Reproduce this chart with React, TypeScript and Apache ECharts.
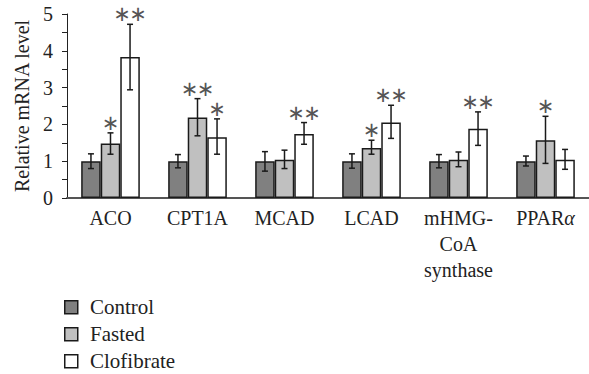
import React, { useEffect, useRef } from "react";
import * as echarts from "echarts";

const categories = ["ACO", "CPT1A", "MCAD", "LCAD", "mHMG-\nCoA\nsynthase", "PPARα"];
const seriesNames = ["Control", "Fasted", "Clofibrate"];
const controlValues = [1.0, 1.0, 1.0, 1.0, 1.0, 1.0];
const fastedValues = [1.48, 2.19, 1.04, 1.36, 1.04, 1.57];
const clofibrateValues = [3.83, 1.65, 1.74, 2.05, 1.88, 1.04];
const controlErrLow = [0.8, 0.82, 0.73, 0.81, 0.82, 0.87];
const controlErrHigh = [1.2, 1.18, 1.26, 1.2, 1.18, 1.14];
const fastedErrLow = [1.19, 1.69, 0.8, 1.19, 0.85, 0.94];
const fastedErrHigh = [1.77, 2.7, 1.3, 1.57, 1.25, 2.22];
const clofibrateErrLow = [2.94, 1.19, 1.46, 1.62, 1.43, 0.78];
const clofibrateErrHigh = [4.72, 2.15, 2.05, 2.52, 2.34, 1.32];
const controlMarks = ["", "", "", "", "", ""];
const fastedMarks = ["*", "**", "", "*", "", "*"];
const clofibrateMarks = ["**", "*", "**", "**", "**", ""];

const colors = ["#808080", "#c0c0c0", "#ffffff"];
const CAT_GAP = 0.326;
const FONT = "'Liberation Serif', 'DejaVu Serif', serif";
const FS = 20;

export default function App() {
  const ref = useRef<HTMLDivElement>(null);
  useEffect(() => {
    document.body.style.margin = "0";
    const chart = echarts.init(ref.current!, null, { renderer: "svg" });
    const values = [controlValues, fastedValues, clofibrateValues];
    const lows = [controlErrLow, fastedErrLow, clofibrateErrLow];
    const highs = [controlErrHigh, fastedErrHigh, clofibrateErrHigh];
    const marks = [controlMarks, fastedMarks, clofibrateMarks];
    const errData: number[][] = [];
    for (let c = 0; c < categories.length; c++) {
      for (let s = 0; s < 3; s++) {
        errData.push([c, s, lows[s][c], highs[s][c]]);
      }
    }
    const barSeries = seriesNames.map((name, i) => ({
      name,
      type: "bar",
      data: values[i],
      barGap: "0%",
      barCategoryGap: (CAT_GAP * 100).toFixed(1) + "%",
      itemStyle: { color: colors[i], borderColor: "#1a1a1a", borderWidth: 1.5 },
    }));
    const legendGraphics: any[] = [];
    seriesNames.forEach((n, i) => {
      legendGraphics.push({
        type: "rect",
        left: 64,
        top: 300 + 27 * i,
        shape: { width: 13, height: 13 },
        style: { fill: colors[i], stroke: "#1a1a1a", lineWidth: 1.5 },
      });
      legendGraphics.push({
        type: "text",
        x: 90,
        y: 307 + 27 * i,
        style: {
          text: n,
          fontFamily: FONT,
          fontSize: 21,
          fill: "#222",
          verticalAlign: "middle",
          align: "left",
        },
      });
    });
    chart.setOption({
      animation: false,
      textStyle: { fontFamily: FONT },
      grid: { left: 67, right: -3, top: 14, bottom: 176 },
      graphic: legendGraphics,
      xAxis: {
        type: "category",
        data: categories,
        axisTick: { show: false },
        axisLine: { lineStyle: { color: "#555", width: 2 } },
        axisLabel: {
          interval: 0,
          margin: 7,
          fontFamily: FONT,
          fontSize: FS,
          lineHeight: 26,
          color: "#222",
          formatter: (v: string) => (v === "PPARα" ? "PPAR{i|α}" : v),
          rich: {
            i: { fontFamily: FONT, fontStyle: "italic", fontSize: FS, color: "#222" },
          },
        },
      },
      yAxis: {
        type: "value",
        min: 0,
        max: 5,
        interval: 0.5,
        name: "Relative mRNA level",
        nameLocation: "middle",
        nameGap: 35,
        nameTextStyle: { fontFamily: FONT, fontSize: FS, color: "#222" },
        splitLine: { show: false },
        axisLine: { show: true, lineStyle: { color: "#222", width: 1 } },
        axisTick: { show: true, length: 5, lineStyle: { color: "#222" } },
        axisLabel: {
          margin: 14,
          fontFamily: FONT,
          fontSize: FS,
          color: "#222",
          formatter: (v: number) => (Math.abs(v - Math.round(v)) < 1e-6 ? String(Math.round(v)) : ""),
        },
      },
      series: [
        ...barSeries,
        {
          type: "custom",
          data: errData,
          encode: { x: 0, y: [2, 3] },
          z: 10,
          renderItem: (params: any, api: any) => {
            const c = api.value(0);
            const s = api.value(1);
            const lo = api.value(2);
            const hi = api.value(3);
            const center = api.coord([c, 0]);
            const bw = (api.size([1, 0])[0] * (1 - CAT_GAP)) / 3;
            const x = center[0] + (s - 1) * bw;
            const yHi = api.coord([c, hi])[1];
            const yLo = api.coord([c, lo])[1];
            const st = { stroke: "#1a1a1a", lineWidth: 1.5 };
            const children: any[] = [
              { type: "line", shape: { x1: x, y1: yHi, x2: x, y2: yLo }, style: st },
              { type: "line", shape: { x1: x - 3, y1: yHi, x2: x + 3, y2: yHi }, style: st },
              { type: "line", shape: { x1: x - 3, y1: yLo, x2: x + 3, y2: yLo }, style: st },
            ];
            const m = marks[s][c];
            const offs = m.length === 2 ? [-8, 8] : m.length === 1 ? [0] : [];
            offs.forEach((o) => {
              children.push({
                type: "text",
                x: x + o,
                y: yHi - 10,
                style: {
                  text: "∗",
                  fill: "#555",
                  fontFamily: "'DejaVu Sans', sans-serif",
                  fontSize: 21,
                  align: "center",
                  verticalAlign: "middle",
                },
              });
            });
            return { type: "group", children };
          },
        },
      ],
    });
    return () => chart.dispose();
  }, []);
  return <div ref={ref} style={{ width: 589, height: 374 }} />;
}
